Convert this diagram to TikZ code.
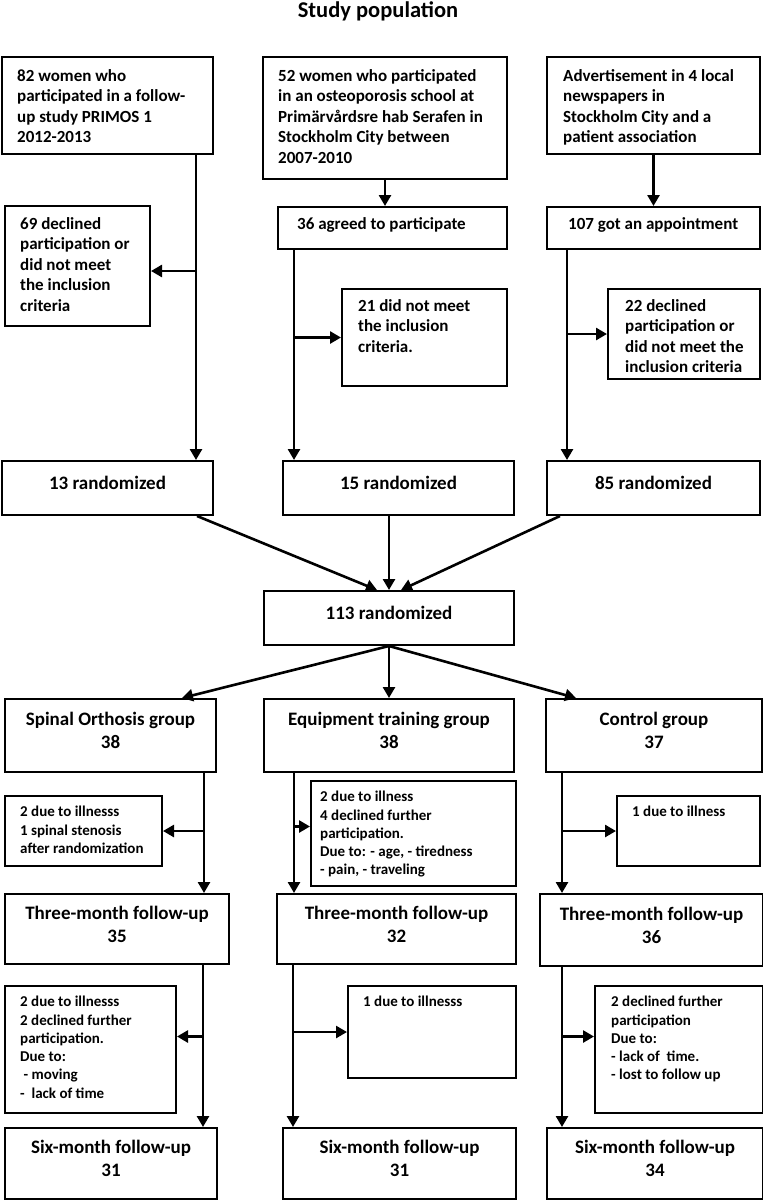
\documentclass[tikz,border=0pt]{standalone}
\usepackage{fontspec}
\setmainfont{Carlito}
\usetikzlibrary{arrows.meta}
\tikzset{
  box/.style={draw, line width=2pt, inner sep=0pt, anchor=north west},
  bx/.style n args={2}{box, minimum width=#1pt, minimum height=#2pt},
  cbx/.style n args={2}{box, minimum width=#1pt, minimum height=#2pt, align=center,
     text depth=10pt, font=\bfseries\fontsize{19}{23}\selectfont},
  bigtxt/.style={anchor=north west, inner sep=0pt, align=left, font=\bfseries\fontsize{17}{20.6}\selectfont},
  smalltxt/.style={anchor=north west, inner sep=0pt, align=left, font=\bfseries\fontsize{15}{18.3}\selectfont},
  arr/.style={line width=2.6pt, -{Triangle[length=11pt,width=12pt]}}
}
\begin{document}
\begin{tikzpicture}[x=1pt,y=-1pt]
\useasboundingbox (0,0) rectangle (763,1200);
% title
\node[font=\bfseries\fontsize{22.5}{26}\selectfont, inner sep=0pt] (title) at (378,11) {Study population};

% top row
\node[bx={211}{97}] (a1) at (1,56) {};
\node[bigtxt] (a1t) at (17,69) {82 women who\\participated in a follow-\\up study PRIMOS 1\\2012-2013};
\node[bx={244}{122}] (a2) at (262,56) {};
\node[bigtxt] (a2t) at (278,69) {52 women who participated\\in an osteoporosis school at\\Primärvårdsre hab Serafen in\\Stockholm City between\\2007-2010};
\node[bx={213}{97}] (a3) at (546,56) {};
\node[bigtxt] (a3t) at (563,69) {Advertisement in 4 local\\newspapers in\\Stockholm City and a\\patient association};

\node[bx={229}{42}] (b2) at (277,206) {};
\node[bigtxt] (b2t) at (297,217) {36 agreed to participate};
\node[bx={213}{42}] (b3) at (546,206) {};
\node[bigtxt] (b3t) at (568,217) {107 got an appointment};

\node[bx={145}{120}] (d1) at (4,205) {};
\node[bigtxt] (d1t) at (20,217) {69 declined\\participation or\\did not meet\\the inclusion\\criteria};
\node[bx={165}{97}] (d2) at (341,288) {};
\node[bigtxt] (d2t) at (358,299) {21 did not meet\\the inclusion\\criteria.};
\node[bx={152}{90}] (d3) at (607,288) {};
\node[bigtxt] (d3t) at (625,299) {22 declined\\participation or\\did not meet the\\inclusion criteria};

% randomized
\node[cbx={211}{54}] (r1) at (1,460) {13 randomized};
\node[cbx={231}{54}] (r2) at (282,460) {15 randomized};
\node[cbx={213}{54}] (r3) at (546,460) {85 randomized};
\node[cbx={250}{54}] (m) at (263,590) {113 randomized};

% groups
\node[cbx={211}{73}] (g1) at (4,698) {Spinal Orthosis group\\38};
\node[cbx={250}{73}] (g2) at (263,698) {Equipment training group\\38};
\node[cbx={216}{73}] (g3) at (545,698) {Control group\\37};

\node[bx={157}{70}] (e1) at (4,795) {};
\node[smalltxt] (e1t) at (20,806) {2 due to illnesss\\1 spinal stenosis\\after randomization};
\node[bx={205}{105}] (e2) at (310,780) {};
\node[smalltxt] (e2t) at (320,791) {2 due to illness\\4 declined further\\participation.\\Due to: - age, - tiredness\\- pain, - traveling};
\node[bx={143}{70}] (e3) at (616,795) {};
\node[smalltxt] (e3t) at (632,806) {1 due to illness};

% three-month
\node[cbx={224}{70}] (h1) at (4,893) {Three-month follow-up\\35};
\node[cbx={239}{70}] (h2) at (276,893) {Three-month follow-up\\32};
\node[cbx={223}{72}] (h3) at (539,893) {Three-month follow-up\\36};

\node[bx={171}{127}] (f1) at (4,985) {};
\node[smalltxt] (f1t) at (20,996) {2 due to illnesss\\2 declined further\\participation.\\Due to:\\\ - moving\\-\ \ lack of time};
\node[bx={168}{92}] (f2) at (347,985) {};
\node[smalltxt] (f2t) at (363,996) {1 due to illnesss};
\node[bx={168}{127}] (f3) at (594,985) {};
\node[smalltxt] (f3t) at (611,996) {2 declined further\\participation\\Due to:\\- lack of\ \ time.\\- lost to follow up};

% six-month
\node[cbx={212}{71}] (s1) at (4,1127) {Six-month follow-up\\31};
\node[cbx={233}{71}] (s2) at (282,1127) {Six-month follow-up\\31};
\node[cbx={216}{71}] (s3) at (546,1127) {Six-month follow-up\\34};

% trunk coordinates
\coordinate (k1) at ([xshift=-18pt]a1.south east);
\coordinate (k2) at ([xshift=17pt]b2.south west);
\coordinate (k3) at ([xshift=21pt]b3.south west);
\coordinate (q1) at ([xshift=-13pt]g1.south east);
\coordinate (q2) at ([xshift=31pt]g2.south west);
\coordinate (q3) at ([xshift=17pt]g3.south west);
\coordinate (p1) at ([xshift=-27pt]h1.south east);
\coordinate (p2) at ([xshift=17pt]h2.south west);
\coordinate (p3) at ([xshift=23pt]h3.south west);
\coordinate (d1a) at ([yshift=-5pt]d1.east);
\coordinate (e2a) at ([yshift=7pt]e2.west);
\coordinate (f1a) at ([yshift=13pt]f1.east);
\coordinate (f3a) at ([yshift=13pt]f3.west);

% connectors top
\draw[arr] (k1) -- (k1 |- r1.north);
\draw[arr] (k1 |- d1a) -- (d1a);
\draw[arr] (a2.south) -- (a2.south |- b2.north);
\draw[arr] (a3.south) -- (a3.south |- b3.north);
\draw[arr] (k2) -- (k2 |- r2.north);
\draw[arr] (k2 |- d2.west) -- (d2.west);
\draw[arr] (k3) -- (k3 |- r3.north);
\draw[arr] (k3 |- d3.west) -- (d3.west);

% into 113
\draw[arr] ([xshift=-17pt]r1.south east) -- ([xshift=-12pt]m.north);
\draw[arr] (m.north |- r2.south) -- (m.north);
\draw[arr] ([xshift=14pt]r3.south west) -- ([xshift=12pt]m.north);

% out of 113
\draw[arr] (m.south) -- ([xshift=-35pt]g1.north east);
\draw[arr] (m.south) -- (m.south |- g2.north);
\draw[arr] (m.south) -- ([xshift=31pt]g3.north west);

% groups to three-month
\draw[arr] (q1) -- (q1 |- h1.north);
\draw[arr] (q1 |- e1.east) -- (e1.east);
\draw[arr] (q2) -- (q2 |- h2.north);
\draw[arr] (q2 |- e2a) -- (e2a);
\draw[arr] (q3) -- (q3 |- h3.north);
\draw[arr] (q3 |- e3.west) -- (e3.west);

% three-month to six-month
\draw[arr] (p1) -- (p1 |- s1.north);
\draw[arr] (p1 |- f1a) -- (f1a);
\draw[arr] (p2) -- (p2 |- s2.north);
\draw[arr] (p2 |- f2.west) -- (f2.west);
\draw[arr] (p3) -- (p3 |- s3.north);
\draw[arr] (p3 |- f3a) -- (f3a);
\end{tikzpicture}
\end{document}
